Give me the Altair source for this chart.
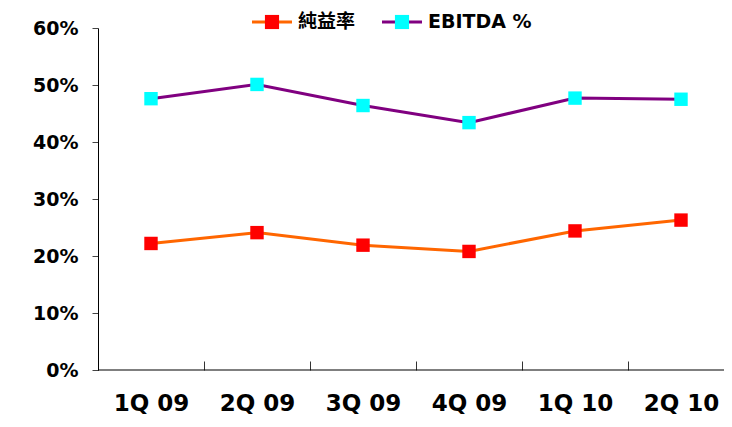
import altair as alt
import pandas as pd

quarters = ["1Q 09", "2Q 09", "3Q 09", "4Q 09", "1Q 10", "2Q 10"]
net_margin = [22.2, 24.1, 21.9, 20.8, 24.4, 26.3]
ebitda = [47.6, 50.1, 46.4, 43.4, 47.7, 47.5]
series = ["純益率", "EBITDA %"]
line_colors = ["#FF6600", "#800080"]
marker_colors = ["#FF0000", "#00FFFF"]
y_ticks = [0, 0.1, 0.2, 0.3, 0.4, 0.5, 0.6]

rows = []
for q, a, b in zip(quarters, net_margin, ebitda):
    rows.append({"quarter": q, "series": series[0], "value": a / 100})
    rows.append({"quarter": q, "series": series[1], "value": b / 100})
df = pd.DataFrame(rows)

FONT = "DejaVu Sans, Noto Sans CJK TC"
W, H = 626, 342
XR = 636

# legend layout (pixels relative to the plot area's top-left corner)
LEG_Y = -6
legend_df = pd.DataFrame({
    "series": series,
    "line_color": line_colors,
    "marker_color": marker_colors,
    "x0": [154, 284],
    "x1": [194, 324],
    "xc": [174, 304],
    "xt": [200, 330],
})

x = alt.X(
    "quarter:N",
    sort=quarters,
    bandPosition=0.5,
    scale=alt.Scale(type="band", paddingInner=0, paddingOuter=0, range=[0, XR]),
    axis=alt.Axis(
        title=None, domain=False, ticks=True, tickBand="extent", tickSize=9,
        offset=-9, tickColor="#333333", labelAngle=0, labelPadding=22,
        labelFont=FONT, labelFontSize=23, labelFontWeight="bold", labelColor="black",
    ),
)
y = alt.Y(
    "value:Q",
    scale=alt.Scale(domain=[0, 0.6], nice=False),
    axis=alt.Axis(
        title=None, format=".0%", values=y_ticks, grid=False, domainColor="black",
        tickColor="#444444", tickSize=6, labelPadding=14, labelFont=FONT,
        labelFontSize=19, labelFontWeight="bold", labelColor="black",
    ),
)

base = alt.Chart(df)
line = base.mark_line(strokeWidth=3).encode(
    x=x, y=y,
    stroke=alt.Stroke("series:N", sort=series,
                      scale=alt.Scale(domain=series, range=line_colors),
                      legend=None),
)
pts = base.mark_square(size=180, opacity=1).encode(
    x=x, y=y,
    fill=alt.Fill("series:N", sort=series,
                  scale=alt.Scale(domain=series, range=marker_colors),
                  legend=None),
)
baseline = alt.Chart(pd.DataFrame({"v": [0]})).mark_rule(color="black", strokeWidth=1.2).encode(
    y=alt.datum(0), x=alt.value(0), x2=alt.value(XR)
)

leg = alt.Chart(legend_df)
leg_line = leg.mark_rule(strokeWidth=3).encode(
    x=alt.X("x0:Q", scale=None), x2="x1:Q", y=alt.value(LEG_Y),
    stroke=alt.Stroke("line_color:N", scale=None),
)
leg_sq = leg.mark_square(size=200, opacity=1).encode(
    x=alt.X("xc:Q", scale=None), y=alt.value(LEG_Y),
    fill=alt.Fill("marker_color:N", scale=None),
)
leg_txt = leg.mark_text(align="left", baseline="middle", font=FONT, fontSize=19,
                        fontWeight="bold", color="black").encode(
    x=alt.X("xt:Q", scale=None), y=alt.value(LEG_Y), text="series:N",
)

chart = alt.layer(baseline, line, pts, leg_line, leg_sq, leg_txt).properties(
    width=W, height=H,
    autosize=alt.AutoSizeParams(type="none"),
    padding={"left": 90, "top": 20, "right": 0, "bottom": 49},
).configure_view(stroke=None)

chart.save("out.html", embed_options={"renderer": "svg", "actions": False})
